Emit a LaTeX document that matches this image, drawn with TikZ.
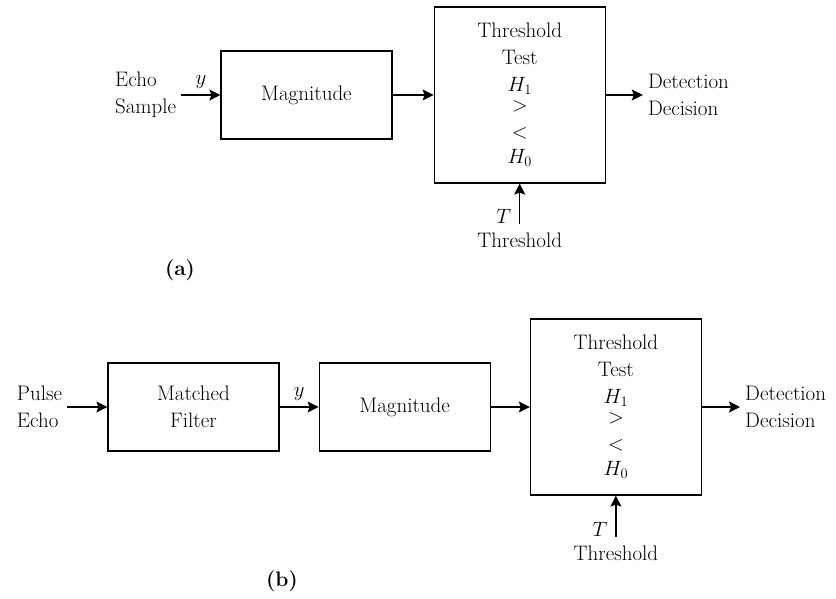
\documentclass[tikz,border=0pt]{standalone}
\usepackage{tikz}
\usetikzlibrary{arrows.meta, positioning}

\begin{document}
\begin{tikzpicture}[
    x = 1pt, y = -1pt,
    every node/.style = {font=\fontsize{21}{27}\selectfont},
    blockbox/.style = {
        rectangle, draw, line width=1.2pt,
        minimum width=171pt, minimum height=88pt,
        align=center, inner sep=0pt
    },
    testbox/.style = {blockbox, minimum height=176pt},
    sidetext/.style = {align=left, inner sep=5pt},
    thrtext/.style = {align=center, inner xsep=5pt, inner ysep=9pt},
    arr/.style = {-{Stealth[length=11pt, width=11pt, inset=2pt]}, line width=1.2pt},
    sig/.style = {above, inner sep=6pt},
    tsym/.style = {pos=0, anchor=south east, inner xsep=8pt, inner ysep=0pt},
    caption/.style = {font=\fontsize{21}{27}\selectfont\bfseries},
]
\useasboundingbox (0,0) rectangle (836,598);

% (a): echo sample detector
\node[blockbox] (magA) at (306.5,95) {Magnitude};
\node[testbox, right=41pt of magA] (testA)
    {Threshold\\Test\\$H_1$\\[-7pt]$>$\\$<$\\[-2pt]$H_0$};
\node[sidetext, left=39pt of magA]   (inA)  {Echo\\Sample};
\node[sidetext, right=37pt of testA] (outA) {Detection\\Decision};
\node[thrtext, below=40pt of testA]  (thrA) {Threshold};
\node[caption] (capA) at (180,270) {(a)};

\draw[arr] (inA)   -- node[sig] {$y$} (magA);
\draw[arr] (magA)  -- (testA);
\draw[arr] (testA) -- (outA);
\draw[arr] (thrA)  -- node[tsym] {$T$} (testA);

% (b): pulse echo through matched filter
\node[blockbox] (mfB) at (193.5,407) {Matched\\Filter};
\node[blockbox, right=39pt of mfB]  (magB)  {Magnitude};
\node[testbox, right=39pt of magB]  (testB)
    {Threshold\\Test\\$H_1$\\[-7pt]$>$\\$<$\\[-2pt]$H_0$};
\node[sidetext, left=40pt of mfB]    (inB)  {Pulse\\Echo};
\node[sidetext, right=38pt of testB] (outB) {Detection\\Decision};
\node[thrtext, below=41pt of testB]  (thrB) {Threshold};
\node[caption] (capB) at (282,581) {(b)};

\draw[arr] (inB)   -- (mfB);
\draw[arr] (mfB)   -- node[sig] {$y$} (magB);
\draw[arr] (magB)  -- (testB);
\draw[arr] (testB) -- (outB);
\draw[arr] (thrB)  -- node[tsym] {$T$} (testB);

\end{tikzpicture}
\end{document}
